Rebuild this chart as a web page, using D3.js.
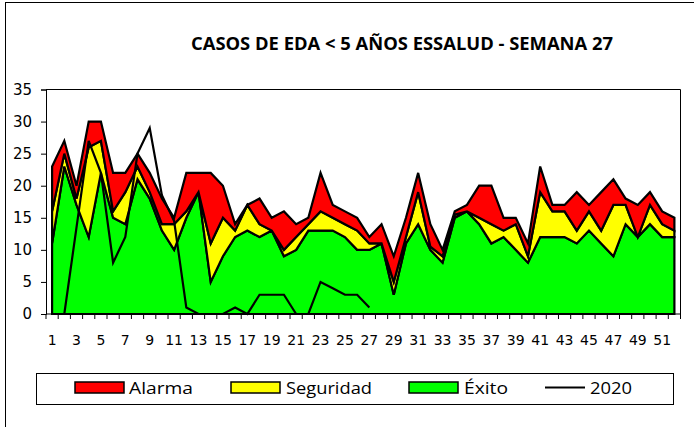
<!DOCTYPE html>
<html>
<head>
<meta charset="utf-8">
<script src="https://cdn.jsdelivr.net/npm/d3@7"></script>
<style>
  body { margin: 0; background: #fff; }
  svg { display: block; }
</style>
</head>
<body>
<div id="chart"></div>
<script>
// Semanas epidemiologicas
var semanas = d3.range(1, 53);

// Canal endemico (valores apilados: cada serie se suma a la anterior)
var exito     = [11,23,17,12,22,15,14,21,18,13,10,15,19,5,9,12,13,12,13,9,10,13,13,13,12,10,10,11,3,11,14,10,8,15,16,14,11,12,10,8,12,12,12,11,13,11,9,14,12,14,12,12];
var seguridad = [5,2,1,14,5,1,5,2,1,1,4,1,0,6,6,1,4,2,0,1,2,1,3,2,2,3,1,0,2,1,5,0.5,1,0.5,0,1,3,1,4,1,7,4,4,2,3,2,8,3,0,3,2,1];
var alarma    = [7,2,2,4,3,6,3,2,3,4,1,6,3,11,5,1,0,4,2,6,2,1,6,2,2,2,1,3,4,3,3,3.5,1,0.5,1,5,6,2,1,2,4,1,1,6,1,6,4,1,5,2,2,2];

// Casos 2020 (hasta la semana 27)
var casos2020 = [0,0,13.5,27,22,8,12,25,29,18.5,14.5,1,0,0,0,1,0,3,3,3,0,0,5,4,3,3,1];

var yTicks = [0, 5, 10, 15, 20, 25, 30, 35];
var xLabels = semanas.filter(function(d) { return d % 2 === 1; });

var series = ["Éxito", "Seguridad", "Alarma"];
var colores = { "Éxito": "#00ff00", "Seguridad": "#ffff00", "Alarma": "#ff0000" };

var W = 694, H = 427;
var pLeft = 46, pRight = 680.5, pTop = 89.5, pBottom = 314;

var svg = d3.select("#chart").append("svg")
    .attr("width", W)
    .attr("height", H);

// marco exterior
svg.append("rect")
    .attr("x", 5.5).attr("y", 2.5)
    .attr("width", 720).attr("height", 460)
    .attr("fill", "none").attr("stroke", "#000").attr("stroke-width", 1);

// titulo
svg.append("text")
    .attr("x", 191).attr("y", 50)
    .attr("textLength", 422).attr("lengthAdjust", "spacingAndGlyphs")
    .style("font-family", "'Open Sans', sans-serif")
    .style("font-weight", "bold")
    .style("font-size", "17px")
    .text("CASOS DE EDA < 5 AÑOS ESSALUD  - SEMANA 27");

var xScale = d3.scaleBand()
    .domain(semanas)
    .range([pLeft, pRight])
    .padding(0);

var yScale = d3.scaleLinear()
    .domain([0, 35])
    .range([pBottom, pTop]);

function cx(w) { return xScale(w) + xScale.bandwidth() / 2; }

// tabla para el apilado
var tabla = semanas.map(function(w, i) {
  return { semana: w, "Éxito": exito[i], "Seguridad": seguridad[i], "Alarma": alarma[i] };
});
var stacked = d3.stack().keys(series)(tabla);

var area = d3.area()
    .x(function(d) { return cx(d.data.semana); })
    .y0(function(d) { return yScale(d[0]); })
    .y1(function(d) { return yScale(d[1]); });

svg.append("g").selectAll("path")
    .data(stacked)
    .enter().append("path")
    .attr("d", function(d) { return area(d) + "Z"; })
    .attr("fill", function(d) { return colores[d.key]; })
    .attr("stroke", "#000")
    .attr("stroke-width", 2.2)
    .attr("stroke-linejoin", "miter");

// linea 2020
var line = d3.line()
    .x(function(d, i) { return cx(semanas[i]); })
    .y(function(d) { return yScale(d); });

svg.append("path")
    .datum(casos2020)
    .attr("d", line)
    .attr("fill", "none")
    .attr("stroke", "#000")
    .attr("stroke-width", 2.2);

// borde del area de trazado (arriba y derecha)
svg.append("path")
    .attr("d", "M" + pLeft + "," + pTop + "H" + pRight + "V" + pBottom)
    .attr("fill", "none").attr("stroke", "#000").attr("stroke-width", 1);

// eje Y
var yAxis = svg.append("g")
    .attr("transform", "translate(" + pLeft + ",0)")
    .call(d3.axisLeft(yScale).tickValues(yTicks).tickSize(5).tickPadding(9));
yAxis.selectAll("text")
    .style("font-family", "'DejaVu Sans', sans-serif")
    .style("font-size", "15px")
    .attr("fill", "#000");
yAxis.selectAll("line, path").attr("stroke", "#000");

// eje X: marcas entre categorias
var xAxis = svg.append("g");
xAxis.append("line")
    .attr("x1", pLeft).attr("x2", pRight)
    .attr("y1", pBottom).attr("y2", pBottom)
    .attr("stroke", "#000");
xAxis.selectAll("line.tick")
    .data(semanas.concat([null]))
    .enter().append("line")
    .attr("class", "tick")
    .attr("x1", function(d) { return d === null ? pRight : xScale(d); })
    .attr("x2", function(d) { return d === null ? pRight : xScale(d); })
    .attr("y1", pBottom).attr("y2", pBottom + 5)
    .attr("stroke", "#000");
xAxis.selectAll("text")
    .data(xLabels)
    .enter().append("text")
    .attr("x", function(d) { return cx(d); })
    .attr("y", 345)
    .attr("text-anchor", "middle")
    .style("font-family", "'DejaVu Sans', sans-serif")
    .style("font-size", "14px")
    .text(function(d) { return d; });

// leyenda
var leg = svg.append("g");
leg.append("rect")
    .attr("x", 36.5).attr("y", 373.5)
    .attr("width", 637).attr("height", 31)
    .attr("fill", "#fff").attr("stroke", "#000").attr("stroke-width", 1);

var legItems = [
  { name: "Alarma", x: 75, tx: 129, tw: 64 },
  { name: "Seguridad", x: 231, tx: 286, tw: 86 },
  { name: "Éxito", x: 409, tx: 464, tw: 44 },
  { name: "2020", x: 545, tx: 590, tw: 42 }
];

legItems.forEach(function(it) {
  if (it.name === "2020") {
    leg.append("line")
      .attr("x1", it.x).attr("x2", it.x + 40)
      .attr("y1", 387.5).attr("y2", 387.5)
      .attr("stroke", "#000").attr("stroke-width", 2);
  } else {
    leg.append("rect")
      .attr("x", it.x).attr("y", 382)
      .attr("width", 49).attr("height", 11)
      .attr("fill", colores[it.name])
      .attr("stroke", "#000").attr("stroke-width", 1.5);
  }
  leg.append("text")
    .attr("x", it.tx).attr("y", 394)
    .attr("textLength", it.tw).attr("lengthAdjust", "spacingAndGlyphs")
    .style("font-family", "'Open Sans', sans-serif")
    .style("font-size", "17px")
    .text(it.name);
});
</script>
</body>
</html>
